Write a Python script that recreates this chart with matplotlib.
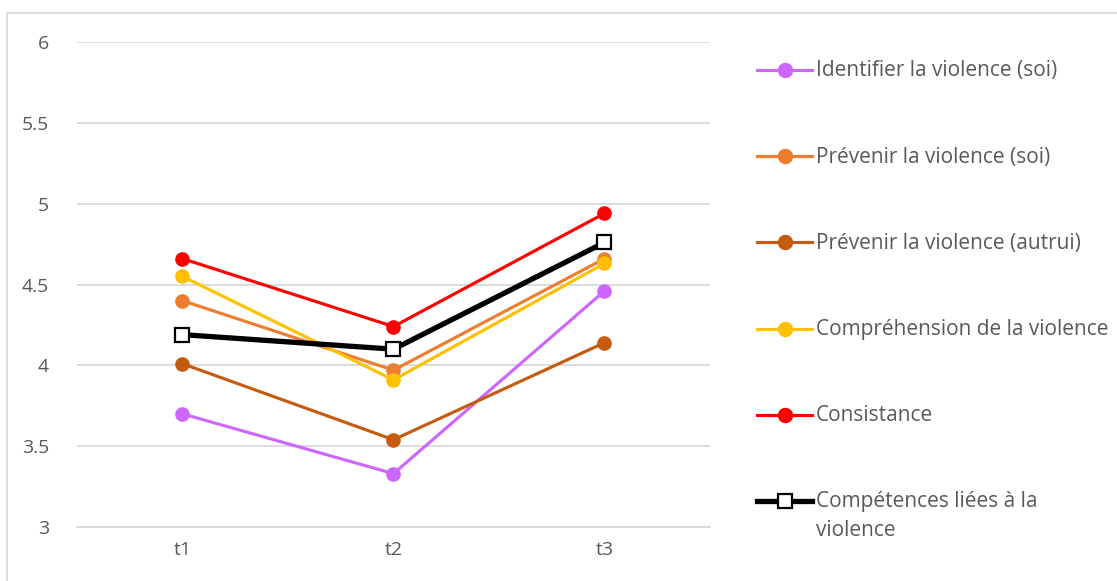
import matplotlib.pyplot as plt
from matplotlib.lines import Line2D
from matplotlib.patches import Rectangle

plt.rcParams['font.family'] = ['Open Sans', 'DejaVu Sans']

# données
temps = ['t1', 't2', 't3']
identifier_soi = [3.70, 3.33, 4.46]
prevenir_soi = [4.40, 3.97, 4.66]
prevenir_autrui = [4.01, 3.54, 4.14]
comprehension = [4.55, 3.91, 4.63]
consistance = [4.66, 4.24, 4.94]
competences = [4.19, 4.10, 4.76]

series = [
    ('Identifier la violence (soi)', identifier_soi, '#CC66FF'),
    ('Prévenir la violence (soi)', prevenir_soi, '#ED7D31'),
    ('Prévenir la violence (autrui)', prevenir_autrui, '#C55A11'),
    ('Compréhension de la violence', comprehension, '#FFC000'),
    ('Consistance', consistance, '#FF0000'),
]

gris = '#595959'
grille = '#D9D9D9'

fig = plt.figure(figsize=(11.17, 5.81), dpi=100)
ax = fig.add_axes([0.0689, 0.0929, 0.5667, 0.8348])

x = range(len(temps))
for nom, vals, coul in series:
    ax.plot(x, vals, color=coul, linewidth=2.25, marker='o', markersize=9.5,
            markeredgecolor=coul, markerfacecolor=coul)
ax.plot(x, competences, color='black', linewidth=3.8, marker='s', markersize=10.5,
        markerfacecolor='white', markeredgecolor='black', markeredgewidth=1.6)

ax.set_xlim(-0.5, 2.5)
ax.set_ylim(3, 6)
ax.set_yticks([3, 3.5, 4, 4.5, 5, 5.5, 6])
ax.set_yticklabels(['3', '3.5', '4', '4.5', '5', '5.5', '6'])
ax.set_xticks(list(x))
ax.set_xticklabels(temps)
ax.tick_params(length=0, labelsize=14, labelcolor=gris)
ax.tick_params(axis='y', pad=20)
ax.tick_params(axis='x', pad=10)
ax.yaxis.grid(True, color=grille, linewidth=1.3)
ax.set_axisbelow(True)
for s in ['top', 'right', 'left']:
    ax.spines[s].set_visible(False)
ax.spines['bottom'].set_color(grille)
ax.spines['bottom'].set_linewidth(1.3)

# légende à droite
W, H = 1117, 581
entrees = [(nom, coul, 'o', coul, 2.25, 9.5) for nom, _, coul in series]
entrees.append(('Compétences liées à la\nviolence', 'black', 's', 'white', 3.8, 10.5))
for i, (nom, coul, mk, fc, lw, ms) in enumerate(entrees):
    yp = 70 + i * 86.2
    yf = 1 - yp / H
    fig.add_artist(Line2D([757 / W, 812 / W], [yf, yf], color=coul, linewidth=lw))
    fig.add_artist(Line2D([784.5 / W], [yf], marker=mk, markersize=ms, color=coul,
                          markerfacecolor=fc, markeredgecolor=coul if mk == 'o' else 'black',
                          markeredgewidth=1.6))
    if '\n' in nom:
        fig.text(816 / W, yf + 10 / H, nom, fontsize=15, color=gris, va='top',
                 ha='left', linespacing=1.5)
    else:
        fig.text(816 / W, yf - 1 / H, nom, fontsize=15, color=gris, va='center', ha='left')

fig.add_artist(Rectangle((7 / W, -0.1), 1.2, 1 - 13 / H + 0.1, fill=False,
                         edgecolor=grille, linewidth=1.3, transform=fig.transFigure))

fig.savefig('out.png', dpi=100)
